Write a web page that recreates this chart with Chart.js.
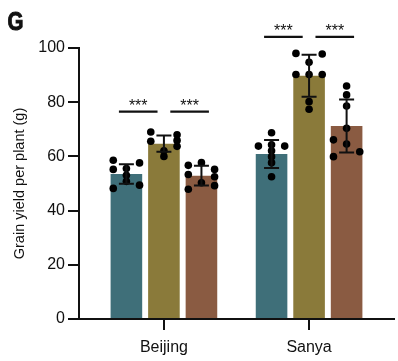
<!DOCTYPE html>
<html><head><meta charset="utf-8">
<script src="https://cdn.jsdelivr.net/npm/chart.js@4"></script>
<style>html,body{margin:0;padding:0;background:#fff}#wrap{position:relative;width:398px;height:361px}</style>
</head><body><div id="wrap"><canvas id="c" width="398" height="361"></canvas></div>
<script>
// ---- data ----
const categories = ['Beijing', 'Sanya'];
const seriesNames = ['Teal', 'Olive', 'Brown'];
const seriesColors = ['#3f6f79', '#8a7a3a', '#8a5b42'];
const meansTeal  = [53.5, 60.9];
const meansOlive = [64.7, 89.8];
const meansBrown = [52.9, 71.2];
const sdTeal  = [3.6, 5.15];
const sdOlive = [3.0, 7.75];
const sdBrown = [3.65, 9.8];
const yTicks = [0, 20, 40, 60, 80, 100];

// individual plants (value) and their jitter column (-1 left, 0 centre, 1 right)
const ptsBeijingTeal  = [58.6, 55.2, 48.2, 55.5, 53.0, 50.8, 57.6, 49.4];
const colBeijingTeal  = [-1, -1, -1, 0, 0, 0, 1, 1];
const ptsBeijingOlive = [69.0, 65.6, 62.1, 60.0, 68.0, 65.9, 63.7];
const colBeijingOlive = [-1, -1, 0, 0, 1, 1, 1];
const ptsBeijingBrown = [56.7, 53.3, 47.9, 57.7, 50.3, 55.2, 52.5, 49.2];
const colBeijingBrown = [-1, -1, -1, 0, 0, 1, 1, 1];
const ptsSanyaTeal    = [63.8, 68.7, 64.3, 62.1, 59.9, 57.7, 52.5, 63.8];
const colSanyaTeal    = [-1, 0, 0, 0, 0, 0, 0, 1];
const ptsSanyaOlive   = [98.0, 90.2, 94.7, 90.2, 80.2, 77.4, 97.8, 90.2];
const colSanyaOlive   = [-1, -1, 0, 0, 0, 0, 1, 1];
const ptsSanyaBrown   = [66.1, 59.9, 86.0, 82.7, 78.6, 70.4, 64.6, 61.7];
const colSanyaBrown   = [-1, -1, 0, 0, 0, 0, 0, 1];

const sigLabels = ['***', '***'];
const sigLevels = [76.5, 104.1]; // bracket height per category

// ---- build ----
const means = [meansTeal, meansOlive, meansBrown];
const sds = [sdTeal, sdOlive, sdBrown];
const pts = [[ptsBeijingTeal, ptsSanyaTeal], [ptsBeijingOlive, ptsSanyaOlive], [ptsBeijingBrown, ptsSanyaBrown]];
const cols = [[colBeijingTeal, colSanyaTeal], [colBeijingOlive, colSanyaOlive], [colBeijingBrown, colSanyaBrown]];

const GROUP_OFF = 0.2585;  // bar centre offset in category units
const JITTER = 0.0905;     // dot column spacing in category units

const datasets = [];
means.forEach((m, s) => {
  datasets.push({
    type: 'bar', label: seriesNames[s], order: 2,
    data: m.map((v, i) => ({x: i, y: v})),
    backgroundColor: seriesColors[s], borderWidth: 0,
    categoryPercentage: 0.7755, barPercentage: 0.842
  });
});
pts.forEach((perCat, s) => {
  const data = [];
  perCat.forEach((arr, i) => arr.forEach((v, k) => data.push({x: i + (s - 1) * GROUP_OFF + cols[s][i][k] * JITTER, y: v})));
  datasets.push({
    type: 'scatter', label: seriesNames[s] + ' plants', order: 0, data,
    pointRadius: 3.8, pointBackgroundColor: '#000', pointBorderWidth: 0, showLine: false
  });
});

const FONT = '"Liberation Sans", Arial, Helvetica, sans-serif';

const overlay = {
  id: 'overlay',
  afterDatasetsDraw(chart) {
    const ctx = chart.ctx, y = chart.scales.y, x = chart.scales.x;
    ctx.save();
    ctx.strokeStyle = '#111'; ctx.lineWidth = 2;
    // error bars
    for (let s = 0; s < 3; s++) {
      const meta = chart.getDatasetMeta(s);
      meta.data.forEach((bar, i) => {
        const m = means[s][i], sd = sds[s][i];
        const yt = y.getPixelForValue(m + sd), yb = y.getPixelForValue(m - sd);
        ctx.beginPath();
        ctx.moveTo(bar.x, yt); ctx.lineTo(bar.x, yb);
        ctx.moveTo(bar.x - 7.5, yt); ctx.lineTo(bar.x + 7.5, yt);
        ctx.moveTo(bar.x - 7.5, yb); ctx.lineTo(bar.x + 7.5, yb);
        ctx.stroke();
      });
    }
    // significance brackets
    ctx.fillStyle = '#111';
    ctx.font = '16px ' + FONT;
    ctx.textAlign = 'center'; ctx.textBaseline = 'alphabetic';
    categories.forEach((c, i) => {
      const ly = y.getPixelForValue(sigLevels[i]);
      [-0.177, 0.177].forEach((off, k) => {
        const x0 = x.getPixelForValue(i + off - 0.133), x1 = x.getPixelForValue(i + off + 0.133);
        ctx.lineWidth = 2.2;
        ctx.beginPath(); ctx.moveTo(x0, ly); ctx.lineTo(x1, ly); ctx.stroke();
        ctx.fillText(sigLabels[k], (x0 + x1) / 2, ly - 0.5);
      });
    });
    // panel letter (condensed bold)
    ctx.textAlign = 'left';
    ctx.font = 'bold 25px ' + FONT;
    ctx.translate(7.5, 30); ctx.scale(0.82, 1);
    ctx.lineWidth = 1; ctx.strokeStyle = '#111';
    ctx.fillText('G', 0, 0);
    ctx.strokeText('G', 0, 0);
    ctx.restore();
  }
};

new Chart(document.getElementById('c'), {
  data: {datasets},
  options: {
    responsive: false, animation: false,
    layout: {padding: {top: 48, left: 0, right: 0, bottom: 0}},
    plugins: {legend: {display: false}, tooltip: {enabled: false}},
    scales: {
      x: {
        type: 'linear', min: -0.585, max: 1.585, offset: false,
        afterBuildTicks(sc) { sc.ticks = categories.map((c, i) => ({value: i})); },
        afterFit(sc) { sc.height = 42; },
        ticks: {callback: (v) => categories[v], color: '#111', font: {size: 16, family: FONT}, padding: 8, maxRotation: 0, autoSkip: false},
        grid: {offset: false, drawOnChartArea: false, drawTicks: true, tickLength: 11, tickColor: '#111', lineWidth: 2},
        border: {display: true, color: '#111', width: 2}
      },
      y: {
        min: 0, max: 100,
        afterBuildTicks(sc) { sc.ticks = yTicks.map(v => ({value: v})); },
        afterFit(sc) { sc.width = 79; },
        ticks: {color: '#111', font: {size: 16, family: FONT}, padding: 3},
        grid: {drawOnChartArea: false, drawTicks: true, tickLength: 11, tickColor: '#111', lineWidth: 2},
        border: {display: true, color: '#111', width: 2},
        title: {display: true, text: 'Grain yield per plant (g)', color: '#111', font: {size: 14.5, family: FONT}, padding: {top: 11, bottom: 0}}
      }
    }
  },
  plugins: [overlay]
});
</script></body></html>
